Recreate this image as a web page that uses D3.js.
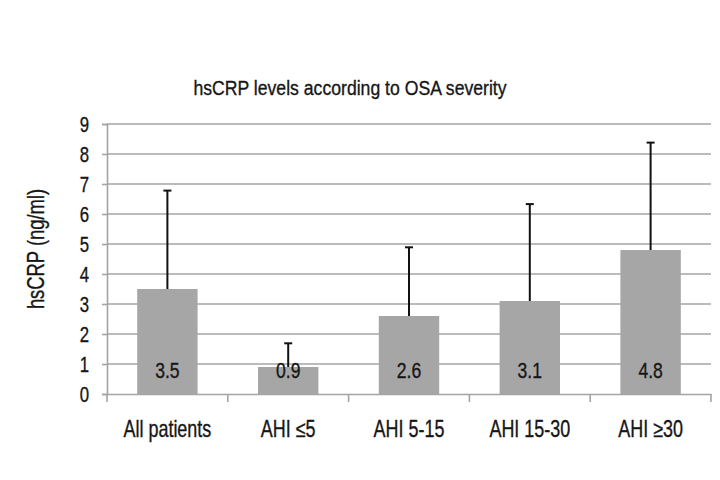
<!DOCTYPE html>
<html><head><meta charset="utf-8">
<script src="https://cdn.jsdelivr.net/npm/d3@7"></script>
<style>
body{margin:0;background:#fff;}
text{font-family:"Liberation Sans",Arial,sans-serif;fill:#161616;stroke:#161616;stroke-width:0.35px;}
</style></head><body>
<svg id="c" width="720" height="480"></svg>
<script>
const categories = ["All patients", "AHI \u22645", "AHI 5-15", "AHI 15-30", "AHI \u226530"];
const values = [3.5, 0.9, 2.6, 3.1, 4.8];
const errorTops = [6.78, 1.69, 4.89, 6.33, 8.38];
const yTicks = [0,1,2,3,4,5,6,7,8,9];
const title = "hsCRP levels according to OSA severity";
const yTitle = "hsCRP (ng/ml)";

const svg = d3.select("#c");
const m = {left:107, right:9, top:124, bottom:86};
const W = 720, H = 480;
const x = d3.scaleBand().domain(categories).range([m.left, W - m.right]).paddingInner(0.5).paddingOuter(0.25);
const y = d3.scaleLinear().domain([0, 9]).range([H - m.bottom, m.top]);
const gridColor = "#a4a4a4";
const SX = 0.78;
const FONT = '"Liberation Sans",Arial,sans-serif';

function ctext(parent, px, py, str, size, anchor, sx, rot) {
  const g = parent.append("g").attr("transform", `translate(${px},${py})` + (rot ? ` rotate(${rot})` : "") + ` scale(${sx},1)`);
  return g.append("text").attr("text-anchor", anchor).attr("font-size", size).text(str);
}

// gridlines
svg.append("g").selectAll("line").data(yTicks.filter(d => d > 0)).join("line")
  .attr("x1", m.left).attr("x2", W - m.right)
  .attr("y1", d => y(d)).attr("y2", d => y(d))
  .attr("stroke", gridColor).attr("stroke-width", 1.6);

// y axis
const ya = svg.append("g").attr("transform", `translate(${m.left},0)`)
  .call(d3.axisLeft(y).tickValues(yTicks).tickSize(5).tickPadding(13));
ya.select(".domain").attr("stroke", gridColor).attr("stroke-width", 1.6);
ya.selectAll(".tick line").attr("stroke", gridColor).attr("stroke-width", 1.6);
ya.selectAll(".tick text").attr("font-size", 21.5).attr("fill", "#161616")
  .style("font-family", FONT)
  .attr("x", -18 / SX).attr("dy", "0.36em")
  .attr("transform", `scale(${SX},1)`);

// x axis
const xa = svg.append("g").attr("transform", `translate(0,${y(0)})`)
  .call(d3.axisBottom(x).tickSize(0).tickPadding(26));
xa.select(".domain").attr("stroke", gridColor).attr("stroke-width", 1.6);
xa.selectAll(".tick text").attr("font-size", 23).attr("fill", "#161616")
  .style("font-family", FONT).attr("dy", "0.78em").attr("y", 25)
  .attr("transform", `scale(${SX},1)`);

// category separator ticks
const step = x.step();
const bounds = categories.map(c => x(c) + x.bandwidth() / 2 - step / 2);
bounds.push(x(categories[categories.length - 1]) + x.bandwidth() / 2 + step / 2);
svg.append("g").selectAll("line").data(bounds).join("line")
  .attr("x1", d => d).attr("x2", d => d)
  .attr("y1", y(0)).attr("y2", y(0) + 8)
  .attr("stroke", gridColor).attr("stroke-width", 1.6);

// bars
svg.append("g").selectAll("rect").data(values).join("rect")
  .attr("x", (d, i) => x(categories[i]))
  .attr("width", x.bandwidth())
  .attr("y", d => y(d))
  .attr("height", d => y(0) - y(d))
  .attr("fill", "#a6a6a6");

// error bars
const eg = svg.append("g").attr("stroke", "#111").attr("stroke-width", 2);
errorTops.forEach((t, i) => {
  const cx = x(categories[i]) + x.bandwidth() / 2;
  eg.append("line").attr("x1", cx).attr("x2", cx).attr("y1", y(values[i])).attr("y2", y(t));
  eg.append("line").attr("x1", cx - 4).attr("x2", cx + 4).attr("y1", y(t)).attr("y2", y(t));
});

// value labels
const vg = svg.append("g");
values.forEach((v, i) => {
  ctext(vg, x(categories[i]) + x.bandwidth() / 2, y(0) - 16, v.toFixed(1), 22.5, "middle", SX);
});

// title
ctext(svg, 350, 95, title, 21, "middle", 0.84);

// y title
ctext(svg, 44, 249, yTitle, 23, "middle", 0.8, -90);
</script>
</body></html>
